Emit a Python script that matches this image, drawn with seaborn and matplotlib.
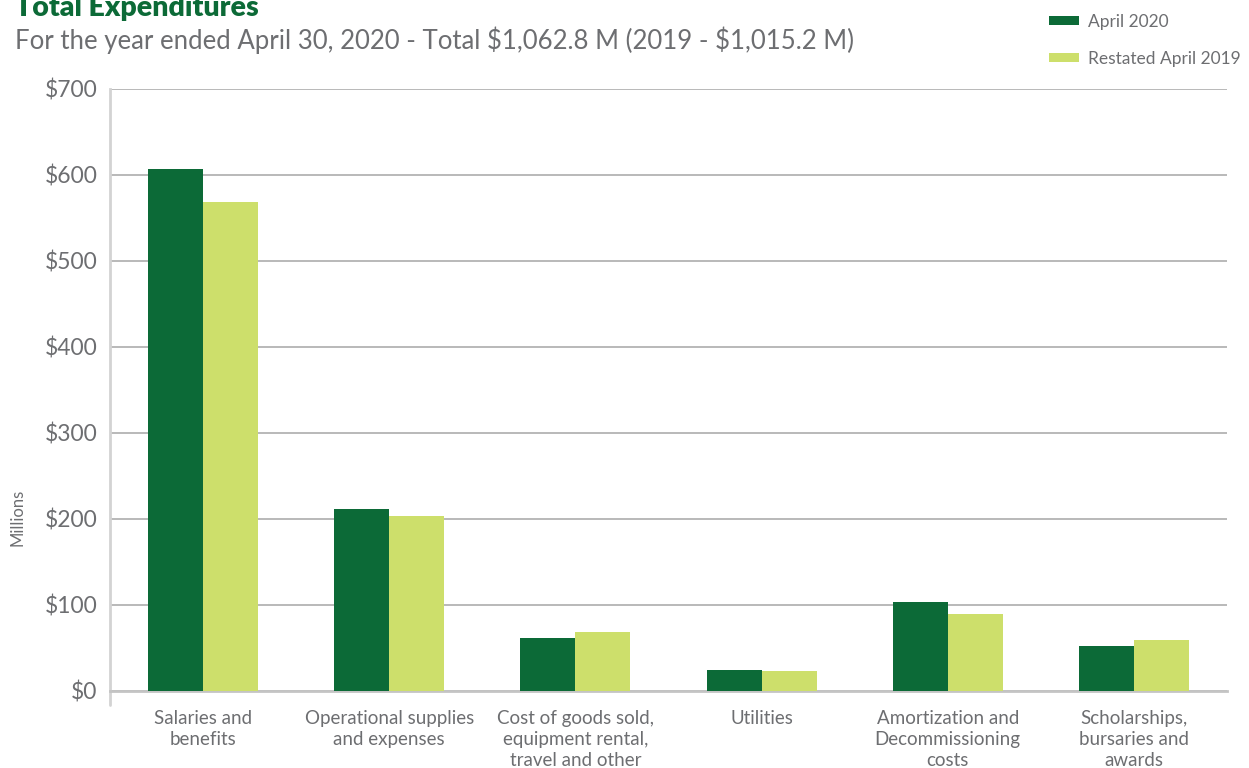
import numpy as np
import pandas as pd
import matplotlib
matplotlib.use("Agg")
import matplotlib.pyplot as plt
from matplotlib.patches import Patch
from matplotlib.lines import Line2D
from matplotlib.ticker import FuncFormatter
import seaborn as sns

# Expenditure categories and amounts ($ millions)
categories = [
    "Salaries and\nbenefits",
    "Operational supplies\nand expenses",
    "Cost of goods sold,\nequipment rental,\ntravel and other",
    "Utilities",
    "Amortization and\nDecommissioning\ncosts",
    "Scholarships,\nbursaries and\nawards",
]
series_names = ["April 2020", "Restated April 2019"]
april_2020 = [607.0, 211.5, 62.0, 24.5, 104.0, 52.8]
april_2019 = [568.5, 204.0, 69.0, 23.5, 90.0, 59.5]
y_ticks = [0, 100, 200, 300, 400, 500, 600, 700]

title = "Total Expenditures"
subtitle = "For the year ended April 30, 2020 - Total $1,062.8 M (2019 - $1,015.2 M)"

DARK_GREEN = "#0c6a37"
LIGHT_GREEN = "#cddf6b"
TEXT_GREY = "#6d6e71"

df = pd.DataFrame({
    "category": categories * 2,
    "series": [series_names[0]] * len(categories) + [series_names[1]] * len(categories),
    "value": april_2020 + april_2019,
})

sns.set_style("white")
plt.rcParams["font.family"] = ["Lato", "DejaVu Sans"]

W, H = 1249, 768
fig = plt.figure(figsize=(W / 100, H / 100), dpi=100)
ax = fig.add_axes([110 / W, 77 / H, 1117 / W, 602 / H])

sns.barplot(
    data=df, x="category", y="value", hue="series",
    order=categories, hue_order=series_names,
    palette=[DARK_GREEN, LIGHT_GREEN], saturation=1,
    width=0.59, gap=0, legend=False, ax=ax, zorder=3,
)
for p in ax.patches:
    p.set_edgecolor("none")

ax.set_ylim(0, 700)
ax.set_xlim(-0.5, len(categories) - 0.5)
ax.set_yticks(y_ticks)
ax.yaxis.set_major_formatter(FuncFormatter(lambda v, _: f"${v:,.0f}"))
ax.set_xlabel("")
ax.set_ylabel("")

# Horizontal gridlines
ax.grid(axis="y", color="#b9b9b9", linewidth=1.4, zorder=0)
ax.grid(axis="x", visible=False)

for side in ["top", "right"]:
    ax.spines[side].set_visible(False)
ax.spines["left"].set_color("#d3d3d3")
ax.spines["left"].set_linewidth(2)
ax.spines["bottom"].set_color("#c4c4c4")
ax.spines["bottom"].set_linewidth(2)

# Left spine extends a little below the baseline
ax.add_line(Line2D([0, 0], [0, -14 / 602], transform=ax.transAxes,
                   color="#d3d3d3", linewidth=2, clip_on=False))

# Category separators as minor ticks
ax.set_xticks(np.arange(0.5, len(categories) - 1, 1.0), minor=True)
ax.tick_params(axis="x", which="minor", length=21, width=1.5, color="#c8c8c8", direction="out")
ax.tick_params(axis="x", which="major", length=0, pad=14, labelsize=13.5, labelcolor=TEXT_GREY)
ax.tick_params(axis="y", which="major", length=0, pad=9, labelsize=16.5, labelcolor=TEXT_GREY)
for lbl in ax.get_xticklabels():
    lbl.set_linespacing(1.28)

fig.text(17 / W, 1 - 517 / H, "Millions", rotation=90, ha="center", va="center",
         fontsize=12, color=TEXT_GREY)

fig.text(15 / W, 1 - 16 / H, title, ha="left", va="baseline",
         fontsize=20.5, fontweight="heavy", color=DARK_GREEN)
fig.text(15 / W, 1 - 49 / H, subtitle, ha="left", va="baseline",
         fontsize=18.5, color=TEXT_GREY, parse_math=False)

handles = [Patch(facecolor=DARK_GREEN, edgecolor="none"),
           Patch(facecolor=LIGHT_GREEN, edgecolor="none")]
fig.legend(handles, series_names, loc="upper left",
           bbox_to_anchor=(1042 / W, 1 - 7 / H), frameon=False,
           fontsize=12.5, labelcolor=TEXT_GREY,
           handlelength=1.75, handleheight=0.45, handletextpad=0.5,
           labelspacing=1.2, borderaxespad=0)

fig.savefig("out.png", dpi=100, facecolor="white")
